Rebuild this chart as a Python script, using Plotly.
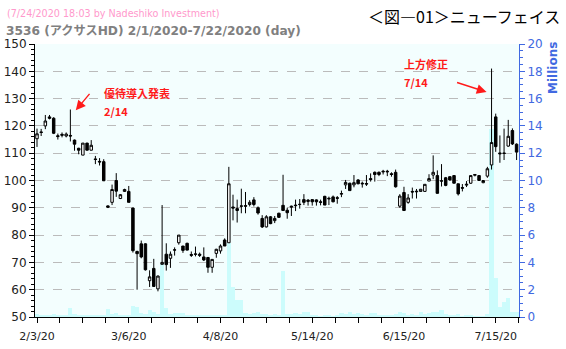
import pandas as pd
import plotly.graph_objects as go

# ---------------- data ----------------
holidays = ["2020-02-11", "2020-02-24", "2020-03-20", "2020-04-29",
            "2020-05-04", "2020-05-05", "2020-05-06"]
dates = [d for d in pd.bdate_range("2020-02-03", "2020-07-22")
         if d.strftime("%Y-%m-%d") not in holidays]

open_ = [115.3, 117.8, 120.0, 123.3, 122.8, 116.4, 116.9, 116.3, 116.5, 114.8,
         111.8, 109.3, 113.7, 111.1, 107.9, 107.0, 106.9, 90.7, 92.0, 100.0,
         93.4, 96.0, 96.0, 89.9, 74.0, 76.8, 76.8, 63.3, 67.8, 60.3,
         69.3, 73.0, 71.5, 74.5, 77.2, 76.0, 77.0, 72.9, 73.1, 73.0,
         72.0, 71.8, 68.2, 73.3, 74.2, 78.2, 77.2, 90.3, 89.7, 90.7,
         90.8, 91.2, 92.9, 90.0, 86.1, 83.0, 86.7, 85.3, 88.0, 90.9,
         89.1, 90.6, 91.0, 91.3, 93.0, 92.3, 93.0, 92.9, 92.2, 94.2,
         93.5, 94.0, 93.7, 95.0, 98.4, 99.0, 98.4, 100.2, 99.0, 98.9,
         100.7, 103.0, 103.0, 103.4, 103.4, 102.5, 103.0, 90.6, 95.6, 92.0,
         96.0, 96.1, 96.0, 96.0, 99.8, 102.0, 101.8, 99.9, 101.0, 101.4,
         101.8, 98.8, 97.4, 98.3, 99.0, 101.9, 101.8, 99.2, 101.6, 105.7,
         123.3, 110.1, 110.1, 112.6, 118.3, 113.3]
high_ = [119.0, 118.9, 124.0, 124.0, 123.2, 117.2, 117.6, 117.6, 126.0, 115.0,
         112.0, 113.7, 113.8, 114.8, 109.0, 108.2, 107.8, 90.9, 98.5, 102.7,
         95.0, 97.0, 98.0, 90.0, 74.3, 78.0, 77.0, 67.1, 71.3, 65.2,
         91.0, 77.0, 74.0, 75.5, 80.0, 76.0, 77.2, 74.0, 75.8, 73.6,
         75.5, 72.0, 71.2, 75.0, 76.6, 78.8, 105.0, 94.8, 93.0, 97.0,
         95.8, 92.8, 93.9, 90.5, 87.3, 87.3, 87.0, 87.0, 88.2, 102.1,
         90.0, 90.8, 93.0, 93.2, 95.0, 93.2, 93.0, 93.1, 93.0, 94.4,
         94.1, 94.5, 94.3, 96.3, 100.2, 99.2, 102.0, 100.5, 99.6, 102.0,
         102.6, 103.3, 103.3, 103.9, 103.9, 103.0, 104.0, 95.0, 97.7, 95.0,
         97.4, 96.9, 96.9, 98.6, 102.3, 109.2, 103.7, 106.0, 101.3, 101.5,
         101.9, 98.8, 98.7, 99.8, 101.9, 102.3, 102.0, 100.0, 105.0, 141.0,
         124.5, 116.5, 119.0, 122.2, 119.1, 113.6]
low_ = [112.3, 116.3, 118.8, 122.4, 117.0, 115.0, 115.8, 115.8, 114.3, 110.9,
        109.6, 109.3, 111.0, 111.0, 106.0, 105.5, 99.8, 89.9, 91.0, 94.0,
        93.2, 95.8, 92.0, 73.6, 60.0, 71.5, 67.0, 61.0, 61.0, 59.4,
        69.2, 67.0, 68.0, 72.5, 76.5, 73.5, 74.4, 72.0, 72.2, 72.0,
        70.5, 66.2, 66.2, 71.7, 73.2, 76.0, 77.2, 85.4, 84.6, 88.0,
        88.0, 90.5, 90.5, 87.5, 82.6, 82.8, 84.0, 84.4, 86.3, 89.0,
        86.0, 87.0, 88.8, 89.7, 91.0, 90.8, 90.8, 90.8, 90.9, 91.0,
        91.0, 92.0, 91.5, 93.9, 96.9, 96.3, 97.5, 98.6, 97.4, 98.0,
        99.6, 99.6, 101.6, 102.2, 101.6, 101.4, 97.4, 90.0, 89.0, 91.5,
        93.4, 93.4, 96.0, 96.0, 99.8, 100.5, 95.2, 97.8, 97.9, 100.0,
        99.0, 94.5, 96.0, 97.6, 98.8, 101.5, 100.0, 99.0, 101.0, 104.0,
        110.5, 106.5, 107.5, 112.4, 113.0, 107.5]
close_ = [117.1, 117.6, 121.8, 122.8, 117.3, 116.1, 116.6, 117.0, 116.3, 113.3,
          111.1, 113.7, 111.1, 112.9, 107.7, 106.8, 99.9, 90.2, 96.7, 96.1,
          94.8, 96.7, 92.0, 74.3, 73.2, 72.0, 67.3, 64.7, 61.2, 65.0,
          70.0, 69.2, 73.0, 74.6, 80.0, 74.4, 74.5, 72.6, 73.0, 72.6,
          70.9, 68.2, 71.1, 74.8, 76.0, 76.0, 98.8, 89.9, 89.0, 90.6,
          90.6, 92.0, 91.2, 88.1, 83.0, 86.7, 84.2, 86.1, 86.5, 89.0,
          88.2, 90.3, 90.8, 91.2, 92.0, 92.8, 92.2, 92.2, 92.0, 91.0,
          93.3, 92.2, 93.5, 95.2, 99.3, 96.3, 99.2, 98.8, 98.8, 98.7,
          100.3, 102.2, 102.2, 103.2, 103.2, 102.2, 97.7, 94.3, 89.0, 93.6,
          95.8, 95.9, 96.8, 98.6, 100.7, 103.0, 95.3, 99.8, 98.2, 100.2,
          99.0, 95.1, 97.2, 98.6, 101.8, 102.2, 100.0, 100.0, 104.3, 113.9,
          112.4, 109.8, 109.9, 116.2, 113.4, 110.4]
volume_m = [0.2, 0.15, 0.15, 0.1, 0.2, 0.1, 0.1, 0.08, 0.65, 0.2,
            0.15, 0.1, 0.1, 0.08, 0.08, 0.08, 0.1, 0.55, 0.2, 0.3,
            0.15, 0.1, 0.1, 0.8, 0.72, 0.3, 0.25, 0.5, 0.38, 0.2,
            3.9, 0.65, 0.25, 0.3, 0.3, 0.3, 0.15, 0.1, 0.1, 0.1,
            0.1, 0.1, 0.15, 0.15, 0.1, 0.1, 5.4, 2.2, 1.22, 1.22,
            0.3, 0.25, 0.3, 0.35, 0.25, 0.2, 0.1, 0.2, 0.15, 3.4,
            0.25, 0.22, 0.3, 0.2, 0.37, 0.37, 0.1, 0.1, 0.05, 0.12,
            0.1, 0.05, 0.1, 0.3, 0.25, 0.37, 0.25, 0.3, 0.25, 0.1,
            0.3, 0.3, 0.1, 0.1, 0.08, 0.1, 0.25, 0.37, 0.3, 0.12,
            0.25, 0.12, 0.37, 0.25, 0.3, 0.35, 0.37, 0.5, 0.25, 0.12,
            0.12, 0.2, 0.05, 0.12, 0.08, 0.05, 0.05, 0.05, 0.25, 13.8,
            2.85, 0.73, 1.1, 1.4, 0.37, 0.37]

tick_dates = ["2020-02-03", "2020-03-06", "2020-04-08",
              "2020-05-14", "2020-06-15", "2020-07-15"]
tick_labels = ["2/3/20", "3/6/20", "4/8/20", "5/14/20", "6/15/20", "7/15/20"]

note1_date, note1_lines = "2020-02-14", ["優待導入発表", "2/14"]
note2_date, note2_lines = "2020-07-14", ["上方修正", "7/14"]

title_stamp = "(7/24/2020 18:03 by Nadeshiko Investment)"
title_main = "3536 (アクサスHD) 2/1/2020-7/22/2020 (day)"
title_fig = "＜図―01＞ニューフェイス"

# ---------------- figure ----------------
assert len(dates) == len(open_) == len(close_) == len(high_) == len(low_) == len(volume_m)
idx = list(range(len(dates)))
date_str = [d.strftime("%Y-%m-%d") for d in dates]
tickvals = [date_str.index(t) for t in tick_dates]

W, H = 566, 349
L, R, T, B = 35, 47, 44, 32
pw, ph = W - L - R, H - T - B


def px(x):
    return (x - L) / pw


def py(y):
    return (H - B - y) / ph


fig = go.Figure()
fig.add_trace(go.Bar(x=idx, y=volume_m, marker=dict(color="#ccfcfc", line=dict(width=0)),
                     yaxis="y", hoverinfo="skip", showlegend=False))
fig.add_trace(go.Candlestick(
    x=idx, open=open_, high=high_, low=low_, close=close_, yaxis="y2",
    increasing=dict(line=dict(color="black", width=1), fillcolor="white"),
    decreasing=dict(line=dict(color="black", width=1), fillcolor="black"),
    whiskerwidth=0, showlegend=False))

tickfont = dict(family="DejaVu Sans, Verdana", size=11, color="#222222")
blue = "#4169e1"
fig.update_layout(
    width=W, height=H, margin=dict(l=L, r=R, t=T, b=B, autoexpand=False),
    paper_bgcolor="white", plot_bgcolor="#f3fefe",
    bargap=0, boxgap=0.15, showlegend=False,
    xaxis=dict(range=[-0.48, len(idx) - 0.42], tickmode="array", tickvals=tickvals,
               ticktext=tick_labels, ticks="outside", ticklen=5, tickcolor="black",
               showline=True, linecolor="black", linewidth=1, showgrid=False,
               zeroline=False, tickfont=tickfont, rangeslider=dict(visible=False),
               automargin=False, ticklabelstandoff=4,
               minor=dict(ticks="outside", tick0=0, dtick=5.5, ticklen=5,
                          tickcolor="black", showgrid=False)),
    yaxis=dict(range=[0, 20], side="right", dtick=2, ticks="outside", ticklen=5,
               tickcolor=blue, showline=True, linecolor=blue, linewidth=1,
               tickfont=dict(family="DejaVu Sans, Verdana", size=12, color=blue),
               showgrid=True, gridcolor="#bbbbbb", griddash="dash", gridwidth=1,
               zeroline=False, automargin=False,
               minor=dict(ticks="outside", dtick=0.5, ticklen=3, tickcolor=blue,
                          showgrid=False)),
    yaxis2=dict(range=[50, 150], overlaying="y", side="left", dtick=10,
                ticks="outside", ticklen=5, tickcolor="black", showline=True,
                linecolor="black", linewidth=1, showgrid=False, zeroline=False,
                automargin=False,
                tickfont=dict(family="DejaVu Sans, Verdana", size=12, color="#222222"),
                minor=dict(ticks="outside", dtick=2, ticklen=3, tickcolor="black",
                           showgrid=False)),
)

red = "#ff1a1a"
ann = []
# header texts
ann.append(dict(text=title_stamp, x=px(5), y=py(14), xref="paper", yref="paper",
                xanchor="left", yanchor="middle", showarrow=False,
                font=dict(family="DejaVu Sans, Verdana", size=9.6, color="#ff99cc")))
ann.append(dict(text="<b>" + title_main + "</b>", x=px(4), y=py(31), xref="paper",
                yref="paper", xanchor="left", yanchor="middle", showarrow=False,
                font=dict(family="DejaVu Sans, Noto Sans CJK JP", size=12.2, color="#808080")))
ann.append(dict(text=title_fig, x=px(562), y=py(16), xref="paper", yref="paper",
                xanchor="right", yanchor="middle", showarrow=False,
                font=dict(family="Noto Sans CJK JP", size=16, color="black")))
ann.append(dict(text="<b>Millions</b>", x=px(553), y=py(68), xref="paper", yref="paper",
                xanchor="center", yanchor="middle", showarrow=False, textangle=-90,
                font=dict(family="DejaVu Sans, Verdana", size=12, color=blue)))

# event notes (text placed in pixels, arrows pointing at the candles)
note_font = dict(family="Noto Sans CJK JP", size=11, color=red)
for (lx, ly), line in zip([(102, 93), (102, 111)], note1_lines):
    ann.append(dict(text="<b>" + line + "</b>", x=px(lx), y=py(ly), xref="paper",
                    yref="paper", xanchor="left", yanchor="middle", showarrow=False,
                    font=note_font))
for (lx, ly), line in zip([(402, 64), (402, 82)], note2_lines):
    ann.append(dict(text="<b>" + line + "</b>", x=px(lx), y=py(ly), xref="paper",
                    yref="paper", xanchor="left", yanchor="middle", showarrow=False,
                    font=note_font))

i1 = date_str.index(note1_date)
i2 = date_str.index(note2_date)
ann.append(dict(text="", x=i1 + 1.3, y=high_[i1] - 0.3, xref="x", yref="y2",
                ax=15, ay=-18, showarrow=True, arrowhead=2, arrowsize=1.4,
                arrowwidth=1.4, arrowcolor=red))
ann.append(dict(text="", x=i2 - 1.2, y=high_[i2] - 8.6, xref="x", yref="y2",
                ax=-31, ay=-10, showarrow=True, arrowhead=2, arrowsize=1.4,
                arrowwidth=1.4, arrowcolor=red))
fig.update_layout(annotations=ann)

fig.write_html("out.html")
